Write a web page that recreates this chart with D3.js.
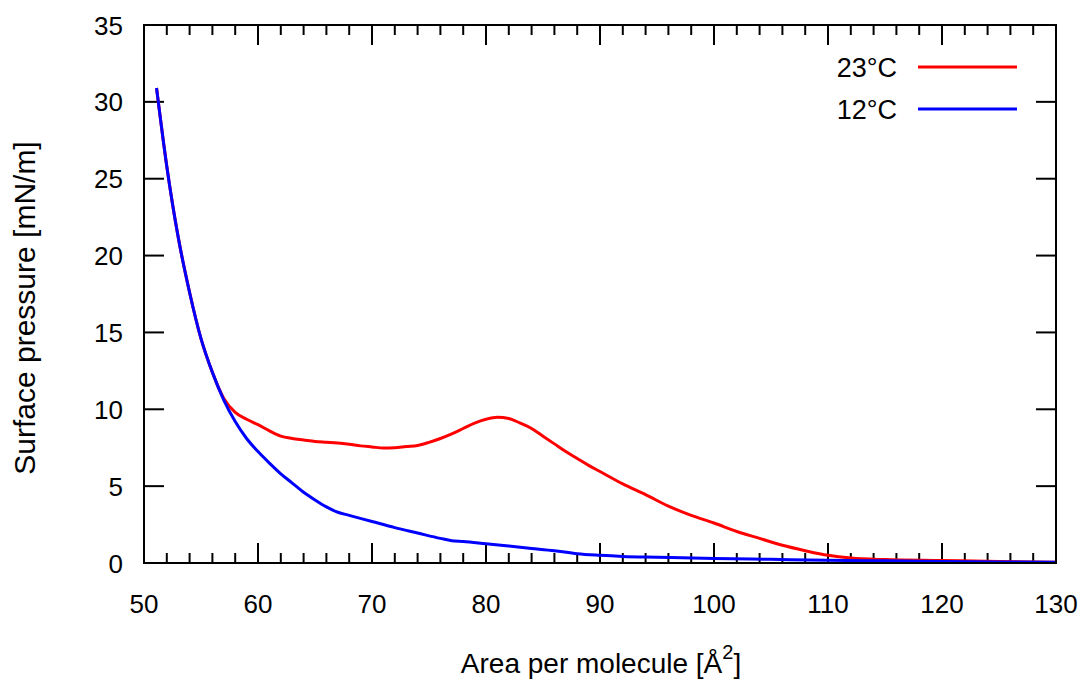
<!DOCTYPE html>
<html>
<head>
<meta charset="utf-8">
<script src="https://cdn.jsdelivr.net/npm/d3@7"></script>
<style>
  body { margin: 0; background: #fff; }
  svg text { font-family: "Liberation Sans", Arial, sans-serif; fill: #000; }
</style>
</head>
<body>
<svg id="chart" width="1082" height="682"></svg>
<script>
//
// Data (read off the isotherms)
//

var area23 = [51.1, 52, 53, 54, 55, 56, 57, 58, 59, 60, 61, 62, 63, 64, 65, 66, 67, 68, 69, 70,
  71, 72, 73, 74, 75, 76, 77, 78, 79, 80, 81, 82, 83, 84, 85, 86, 87, 88, 89, 90,
  92, 94, 96, 98, 100, 102, 104, 106, 108, 110, 112, 115, 120, 125, 130];
var pressure23 = [30.9, 25.8, 21.2, 17.6, 14.6, 12.4, 10.7, 9.8, 9.35, 9.0, 8.6, 8.25, 8.1, 8.0, 7.9, 7.85, 7.8, 7.72, 7.62, 7.55,
  7.48, 7.5, 7.58, 7.65, 7.85, 8.1, 8.4, 8.75, 9.1, 9.35, 9.48, 9.4, 9.1, 8.75, 8.25, 7.75, 7.25, 6.8, 6.35, 5.95,
  5.15, 4.45, 3.7, 3.1, 2.6, 2.05, 1.6, 1.15, 0.8, 0.5, 0.32, 0.22, 0.16, 0.1, 0.05];

var area12 = [51.1, 52, 53, 54, 55, 56, 57, 58, 59, 60, 61, 62, 63, 64, 65, 66, 67, 68, 70, 72,
  74, 76, 77, 78, 80, 82, 84, 86, 88, 90, 92, 95, 100, 105, 110, 115, 120, 125, 130];
var pressure12 = [30.9, 25.8, 21.2, 17.6, 14.6, 12.4, 10.6, 9.2, 8.1, 7.25, 6.5, 5.8, 5.2, 4.6, 4.1, 3.65, 3.3, 3.1, 2.7, 2.3,
  1.95, 1.6, 1.45, 1.4, 1.25, 1.1, 0.95, 0.8, 0.6, 0.5, 0.43, 0.38, 0.3, 0.24, 0.18, 0.14, 0.1, 0.07, 0.05];

var series = [
  { name: "23\u00B0C", color: "#ff0000", xs: area23, ys: pressure23 },
  { name: "12\u00B0C", color: "#0000ff", xs: area12, ys: pressure12 },
];

var xTicks = [50, 60, 70, 80, 90, 100, 110, 120, 130];
var yTicks = [0, 5, 10, 15, 20, 25, 30, 35];

//
// Layout
//

const margin = { left: 144, right: 26, top: 25, bottom: 119 };
const width = 1082, height = 682;

const svg = d3.select("#chart");

const x = d3.scaleLinear().domain([50, 130]).range([margin.left, width - margin.right]);
const y = d3.scaleLinear().domain([0, 35]).range([height - margin.bottom, margin.top]);

const x0 = x.range()[0], x1 = x.range()[1];
const y0 = y.range()[0], y1 = y.range()[1];

// minor ticks every 2 on x
const xMinor = d3.range(50, 131, 2).filter((d) => d % 10 !== 0);

//
// Ticks (inside, mirrored on all sides like gnuplot)
//

const ticks = svg.append("g").attr("stroke", "#000").attr("stroke-width", 2);

ticks.selectAll("line.xmaj-b").data(xTicks).enter().append("line")
  .attr("x1", (d) => x(d)).attr("x2", (d) => x(d))
  .attr("y1", y0).attr("y2", y0 - 20);
ticks.selectAll("line.xmaj-t").data(xTicks).enter().append("line")
  .attr("x1", (d) => x(d)).attr("x2", (d) => x(d))
  .attr("y1", y1).attr("y2", y1 + 20);
ticks.selectAll("line.xmin-b").data(xMinor).enter().append("line")
  .attr("x1", (d) => x(d)).attr("x2", (d) => x(d))
  .attr("y1", y0).attr("y2", y0 - 10);
ticks.selectAll("line.xmin-t").data(xMinor).enter().append("line")
  .attr("x1", (d) => x(d)).attr("x2", (d) => x(d))
  .attr("y1", y1).attr("y2", y1 + 10);
ticks.selectAll("line.y-l").data(yTicks).enter().append("line")
  .attr("x1", x0).attr("x2", x0 + 20)
  .attr("y1", (d) => y(d)).attr("y2", (d) => y(d));
ticks.selectAll("line.y-r").data(yTicks).enter().append("line")
  .attr("x1", x1).attr("x2", x1 - 20)
  .attr("y1", (d) => y(d)).attr("y2", (d) => y(d));

//
// Tick labels
//

svg.append("g").selectAll("text").data(xTicks).enter().append("text")
  .attr("x", (d) => x(d)).attr("y", 613)
  .attr("text-anchor", "middle")
  .style("font-size", "26px")
  .text((d) => d);

svg.append("g").selectAll("text").data(yTicks).enter().append("text")
  .attr("x", x0 - 21).attr("y", (d) => y(d) + 9.5)
  .attr("text-anchor", "end")
  .style("font-size", "26px")
  .text((d) => d);

//
// Axis titles
//

svg.append("text")
  .attr("transform", "translate(35,308) rotate(-90)")
  .attr("text-anchor", "middle")
  .style("font-size", "30px")
  .text("Surface pressure [mN/m]");

// keep the descenders inside the page
const xt = svg.append("text")
  .attr("x", 601).attr("y", 673)
  .attr("text-anchor", "middle")
  .style("font-size", "28px");
xt.append("tspan").text("Area per molecule [\u00C5");
xt.append("tspan").attr("dy", -14).style("font-size", "20px").text("2");
xt.append("tspan").attr("dy", 14).text("]");

//
// Curves
//

const line = d3.line()
  .x((d) => x(d[0]))
  .y((d) => y(d[1]))
  .curve(d3.curveMonotoneX);

svg.append("g").selectAll("path").data(series).enter().append("path")
  .attr("fill", "none")
  .attr("stroke", (d) => d.color)
  .attr("stroke-width", 3)
  .attr("d", (d) => line(d.xs.map((v, i) => [v, d.ys[i]])));

//
// Frame
//

svg.append("rect")
  .attr("x", x0).attr("y", y1)
  .attr("width", x1 - x0).attr("height", y0 - y1)
  .attr("fill", "none").attr("stroke", "#000").attr("stroke-width", 2);

//
// Legend
//

const legend = svg.append("g").selectAll("g").data(series).enter().append("g")
  .attr("transform", (d, i) => "translate(0," + (67 + i * 42) + ")");
legend.append("text")
  .attr("x", 897).attr("y", 10)
  .attr("text-anchor", "end")
  .style("font-size", "27px")
  .text((d) => d.name);
legend.append("line")
  .attr("x1", 918).attr("x2", 1017)
  .attr("stroke", (d) => d.color)
  .attr("stroke-width", 3);
</script>
</body>
</html>
